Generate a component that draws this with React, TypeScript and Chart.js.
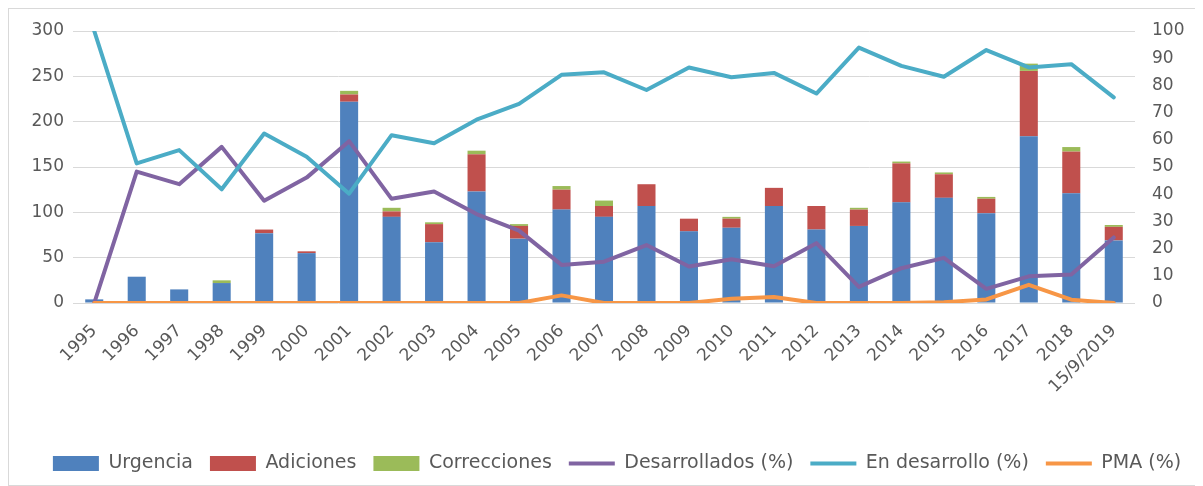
import React, { useEffect, useRef } from "react";
import { Chart, registerables } from "chart.js";

Chart.register(...registerables);

const categories = [
  "1995", "1996", "1997", "1998", "1999", "2000", "2001", "2002", "2003", "2004",
  "2005", "2006", "2007", "2008", "2009", "2010", "2011", "2012", "2013", "2014",
  "2015", "2016", "2017", "2018", "15/9/2019",
];

const urgencia = [4, 29, 15, 22, 77, 55, 222, 95, 67, 123, 71, 103, 95, 107, 79, 83, 107, 81, 85, 111, 116, 99, 184, 121, 69];
const adiciones = [0, 0, 0, 0, 4, 2, 8, 6, 20, 41, 14, 22, 12, 24, 14, 10, 20, 26, 18, 43, 26, 16, 72, 46, 15];
const correcciones = [0, 0, 0, 3, 0, 0, 4, 4, 2, 4, 2, 4, 6, 0, 0, 2, 0, 0, 2, 2, 2, 2, 8, 5, 2];

const desarrollados = [0, 48.3, 43.7, 57.4, 37.6, 46.1, 59.5, 38.3, 41, 32.7, 26.6, 14, 15.2, 21.3, 13.4, 16.1, 13.5, 22, 5.9, 12.8, 16.6, 5.2, 9.8, 10.5, 24.1];
const enDesarrollo = [100, 51.3, 56.2, 41.8, 62.3, 53.8, 40.2, 61.7, 58.7, 67.4, 73.2, 83.9, 84.8, 78.3, 86.6, 83, 84.6, 77, 93.9, 87.2, 83.2, 93, 86.6, 87.8, 75.6];
const pma = [0, 0, 0, 0, 0, 0, 0, 0, 0, 0, 0, 2.8, 0, 0, 0, 1.6, 2.2, 0, 0, 0, 0.3, 1.3, 6.7, 1.2, 0];

const TEXT = "#595959";
const FONT = "DejaVu Sans";

// shifts the centred legend row slightly to the right, as in the reference
const legendShift = {
  id: "legendShift",
  afterUpdate(chart: any) {
    if (chart.legend) {
      chart.legend.left += 14;
      chart.legend.right += 14;
      if (chart.legend.adjustHitBoxes) chart.legend.adjustHitBoxes();
    }
  },
};

export default function App() {
  const ref = useRef<HTMLCanvasElement>(null);

  useEffect(() => {
    const barCommon = {
      type: "bar" as const,
      yAxisID: "y",
      stack: "s",
      borderWidth: 0,
      barPercentage: 0.85,
      categoryPercentage: 0.5,
      order: 10,
      pointStyle: "rect",
    };
    const lineCommon = {
      type: "line" as const,
      yAxisID: "y1",
      borderWidth: 4,
      pointRadius: 0,
      pointHoverRadius: 0,
      tension: 0,
      fill: false,
      pointStyle: "line",
      borderCapStyle: "round",
      borderJoinStyle: "round",
    };
    const chart = new Chart(ref.current!, {
      data: {
        labels: categories,
        datasets: [
          { ...barCommon, label: "Urgencia", data: urgencia, backgroundColor: "#4F81BD", borderColor: "#4F81BD" },
          { ...barCommon, label: "Adiciones", data: adiciones, backgroundColor: "#C0504D", borderColor: "#C0504D" },
          { ...barCommon, label: "Correcciones", data: correcciones, backgroundColor: "#9BBB59", borderColor: "#9BBB59" },
          { ...lineCommon, label: "Desarrollados (%)", data: desarrollados, borderColor: "#8064A2", backgroundColor: "#8064A2", order: 3 },
          { ...lineCommon, label: "En desarrollo (%)", data: enDesarrollo, borderColor: "#4BACC6", backgroundColor: "#4BACC6", order: 2 },
          { ...lineCommon, label: "PMA (%)", data: pma, borderColor: "#F79646", backgroundColor: "#F79646", order: 1 },
        ] as any,
      },
      plugins: [legendShift],
      options: {
        responsive: false,
        maintainAspectRatio: false,
        animation: false,
        devicePixelRatio: 1,
        layout: { padding: { top: 22, bottom: 2, left: 0, right: 0 } },
        plugins: {
          tooltip: { enabled: false },
          legend: {
            position: "bottom",
            labels: {
              usePointStyle: true,
              pointStyleWidth: 46,
              boxHeight: 15,
              padding: 17,
              color: TEXT,
              font: { family: FONT, size: 19 },
              sort: (a: any, b: any) => a.datasetIndex - b.datasetIndex,
            },
          },
        },
        scales: {
          x: {
            stacked: true,
            grid: { display: false },
            border: { display: false },
            ticks: {
              autoSkip: false,
              maxRotation: 45,
              minRotation: 45,
              padding: 10,
              color: TEXT,
              font: { family: FONT, size: 17 },
            },
            afterFit: (s: any) => {
              s.height = 134;
            },
          },
          y: {
            position: "left",
            stacked: true,
            min: 0,
            max: 300,
            ticks: { stepSize: 50, padding: 9, color: TEXT, font: { family: FONT, size: 17 } },
            grid: { color: "#d9d9d9", lineWidth: 1, drawTicks: false },
            border: { display: false },
            afterFit: (s: any) => {
              s.width = 64;
            },
          },
          y1: {
            position: "right",
            min: 0,
            max: 100,
            ticks: { stepSize: 10, padding: 0, color: TEXT, font: { family: FONT, size: 17 } },
            grid: {
              display: true,
              drawOnChartArea: false,
              drawTicks: true,
              tickLength: 17,
              color: "rgba(0,0,0,0)",
            },
            border: { display: false },
            afterFit: (s: any) => {
              s.width = 62;
            },
          },
        },
      } as any,
    });
    return () => chart.destroy();
  }, []);

  return (
    <div
      style={{
        width: 1190,
        height: 478,
        border: "1px solid #d9d9d9",
        boxSizing: "border-box",
        background: "#fff",
      }}
    >
      <canvas ref={ref} width={1188} height={476} style={{ display: "block", width: 1188, height: 476 }} />
    </div>
  );
}
